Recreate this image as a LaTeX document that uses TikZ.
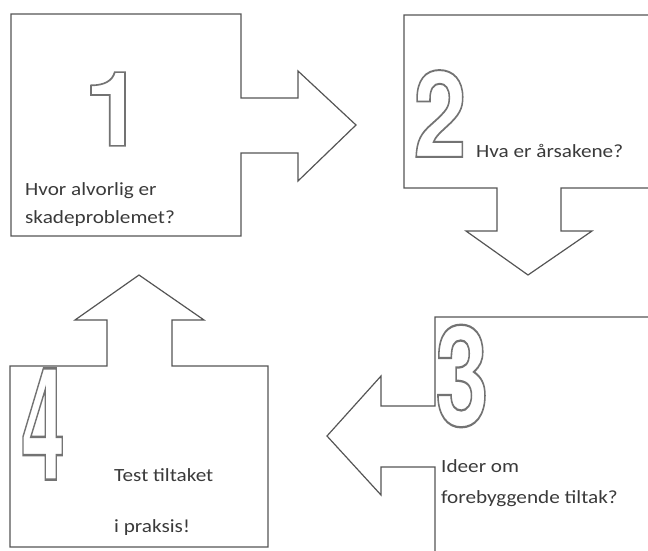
\documentclass[tikz,border=0pt]{standalone}
\usepackage{fontspec}
\setmainfont{Carlito}
\newfontfamily\txtfont[FakeStretch=1.14]{Carlito}
\newfontfamily\digfont{TeX Gyre Heros}[FakeBold=1.6]
\definecolor{linegray}{HTML}{555555}
\definecolor{txtgray}{HTML}{3A3A3A}
\newcommand{\outlinedigit}[1]{{\color{white}\special{pdf:code 0.45 G}#1}}
\begin{document}
\begin{tikzpicture}[x=1pt,y=-1pt,
  shapeline/.style={draw=linegray, line width=1.2pt, line join=miter},
  lbl/.style={anchor=base west, inner sep=0pt, text=txtgray, font=\txtfont\fontsize{18.6}{22}\selectfont},
  digit/.style={inner sep=0pt, anchor=center}]
\useasboundingbox (0,0) rectangle (648,550);
\begin{scope}
\clip (0,0) rectangle (648,550);
% shape 1: box with right arrow
\draw[shapeline] (11,14) -- (241,14) -- (241,98) -- (298,98) -- (298,71) -- (356,125)
  -- (298,181) -- (298,153) -- (241,153) -- (241,236) -- (11,236) -- cycle;
% shape 2: box with down arrow
\draw[shapeline] (660,15) -- (404,15) -- (404,188) -- (497,188) -- (497,231) -- (466,231)
  -- (528,275) -- (592,231) -- (561,231) -- (561,188) -- (660,188);
% shape 3: box with left arrow
\draw[shapeline] (660,317) -- (435,317) -- (435,406) -- (381,406) -- (381,376) -- (327,436)
  -- (381,495) -- (381,467) -- (435,467) -- (435,560);
% shape 4: box with up arrow
\draw[shapeline] (10,366) -- (107,366) -- (107,320) -- (75,320) -- (139,275) -- (204,320)
  -- (172,320) -- (172,366) -- (268,366) -- (268,547) -- (10,547) -- cycle;
\end{scope}
% digits
\node[digit] (d1) at (114,109) {\scalebox{1.05}[1]{\digfont\bfseries\fontsize{104}{104}\selectfont\outlinedigit{1}}};
\node[digit] (d2) at (440,113.5) {\scalebox{0.8}[1]{\digfont\bfseries\fontsize{120}{120}\selectfont\outlinedigit{2}}};
\node[digit] (d3) at (462,376) {\scalebox{0.69}[1]{\digfont\bfseries\fontsize{140}{140}\selectfont\outlinedigit{3}}};
\node[digit] (d4) at (43,424) {\scalebox{0.5}[1]{\digfont\bfseries\fontsize{157}{157}\selectfont\outlinedigit{4}}};
% texts
\node[lbl] (t1a) at (25,195) {Hvor alvorlig er};
\node[lbl] (t1b) at (25,223) {skadeproblemet?};
\node[lbl] (t2) at (476,157) {Hva er årsakene?};
\node[lbl] (t3a) at (441,472) {Ideer om};
\node[lbl] (t3b) at (441,503) {forebyggende tiltak?};
\node[lbl] (t4a) at (114,481) {Test tiltaket};
\node[lbl] (t4b) at (114,532) {i praksis!};
\end{tikzpicture}
\end{document}
